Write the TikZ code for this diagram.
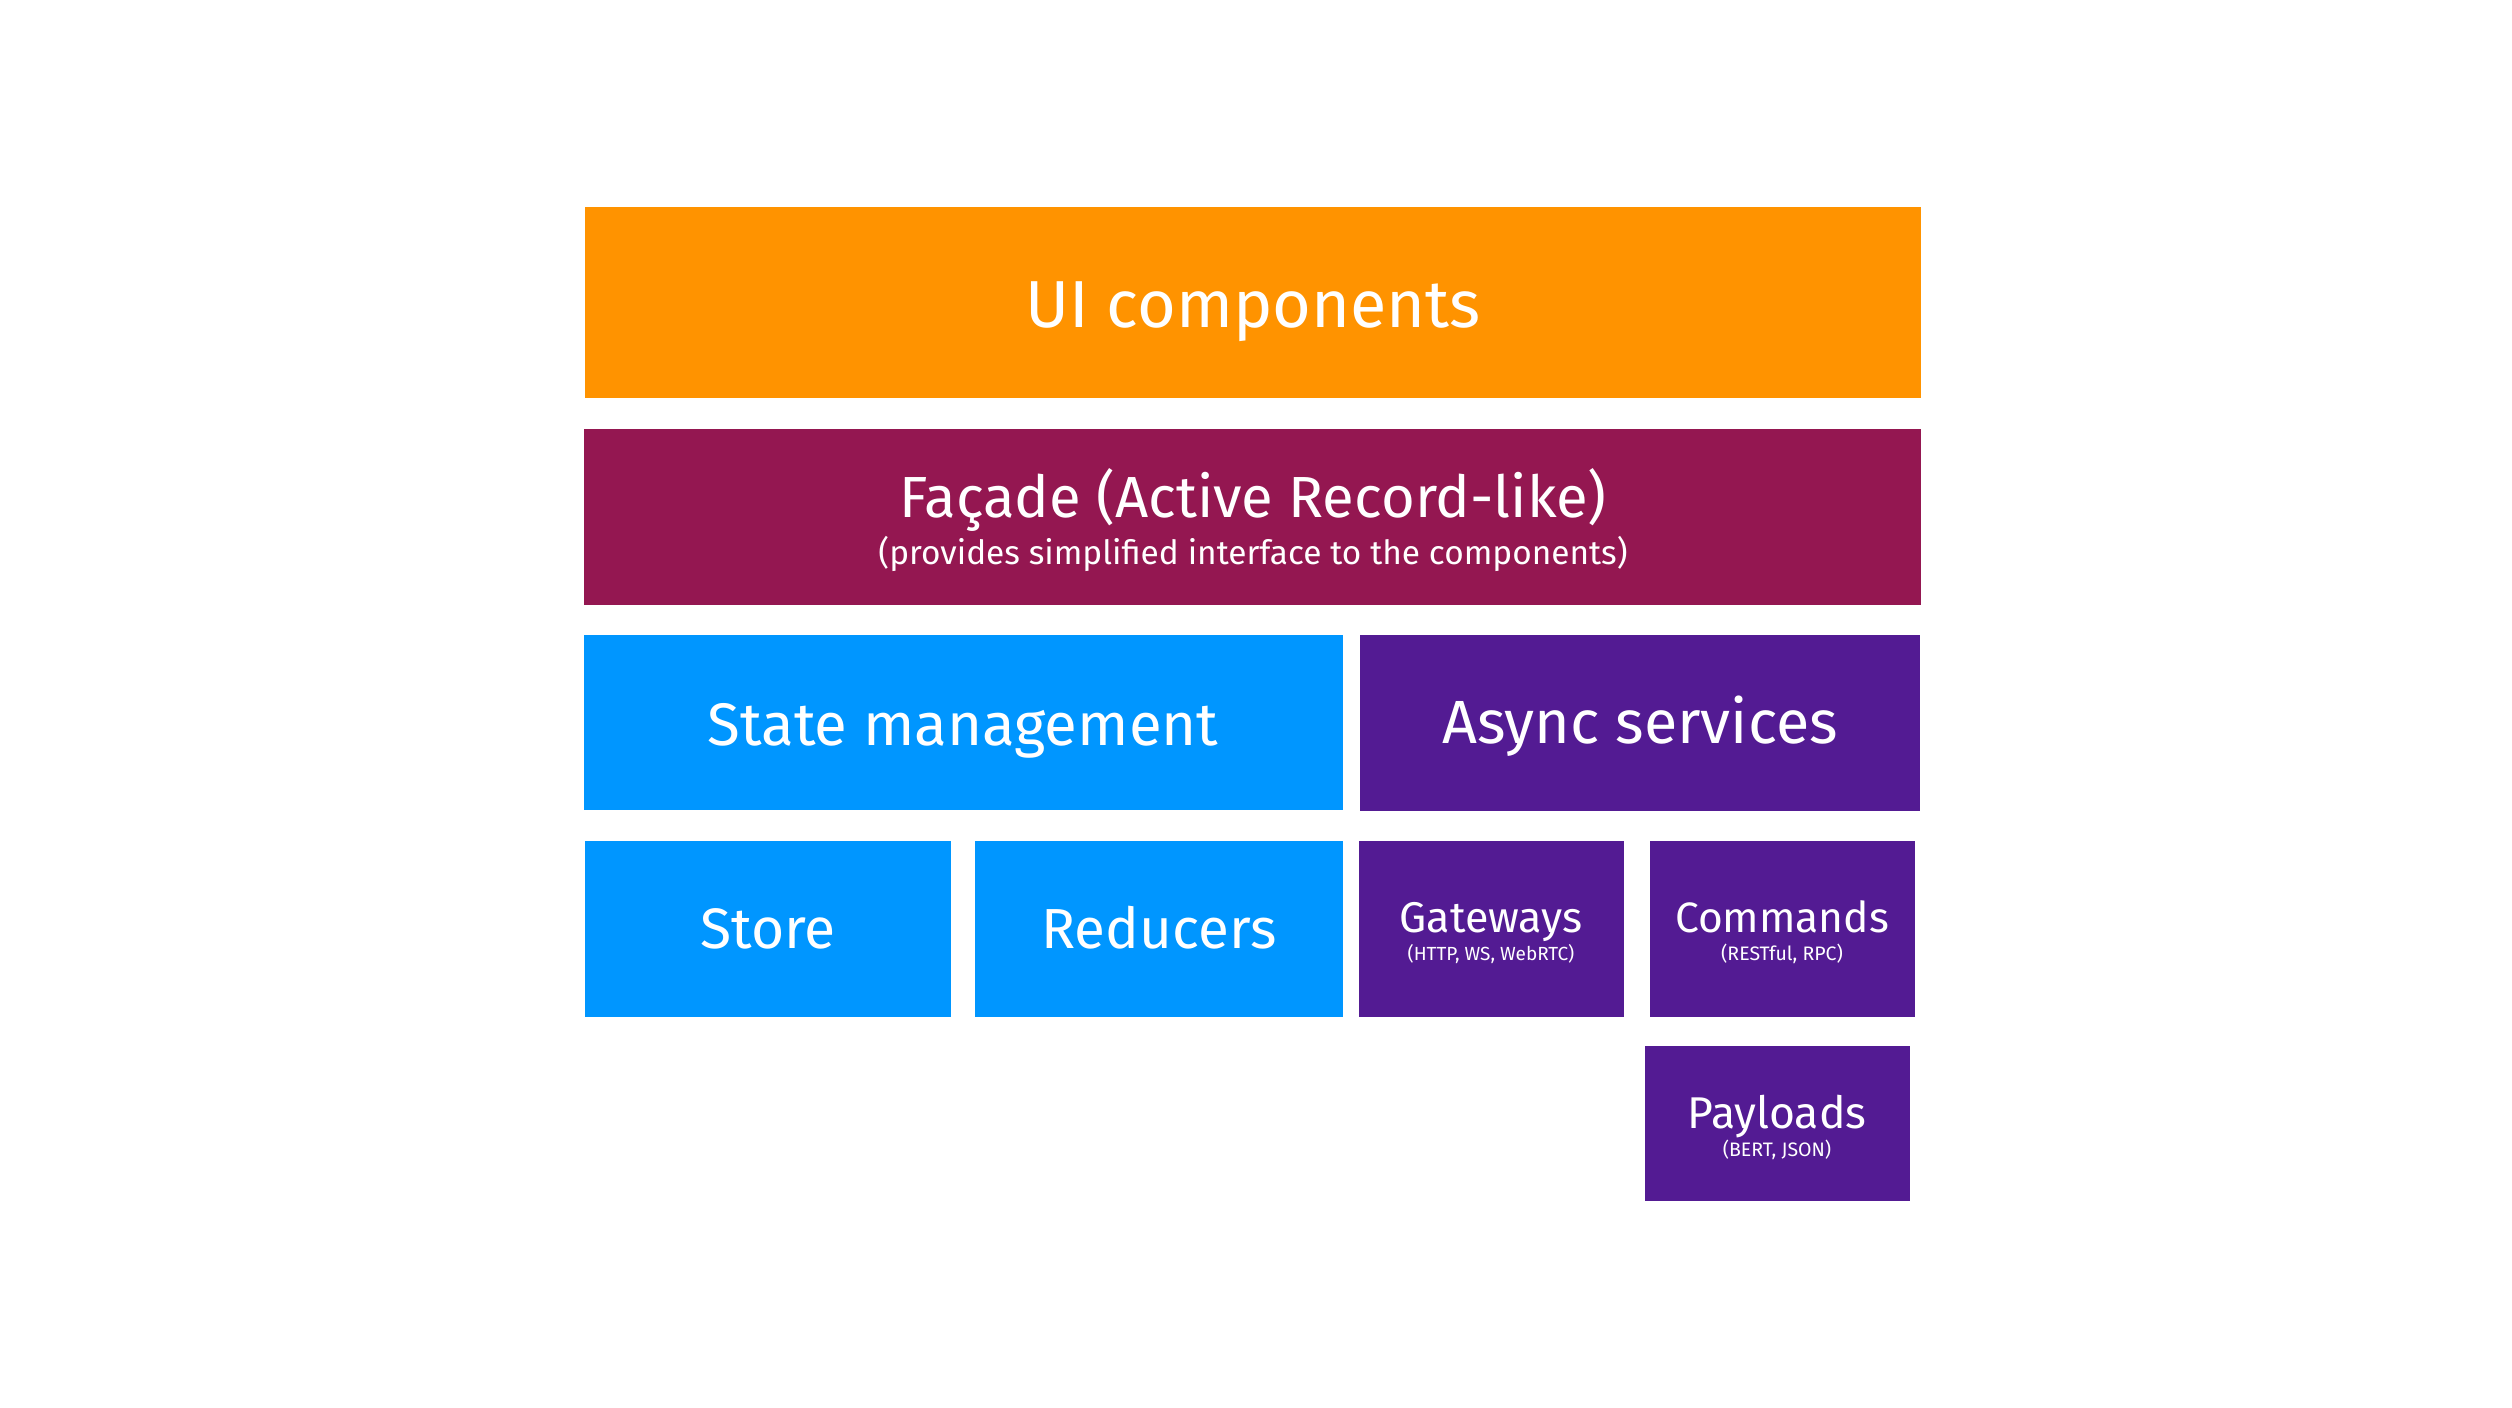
\documentclass[tikz,border=0pt]{standalone}
\usepackage{fontspec}
\setmainfont{Fira Sans}
\definecolor{tangerine}{HTML}{FF9300}
\definecolor{maroon}{HTML}{941751}
\definecolor{aqua}{HTML}{0096FF}
\definecolor{grape}{HTML}{531B93}
\newcommand{\fs}[1]{\fontsize{#1}{#1}\selectfont}
\begin{document}
\begin{tikzpicture}[x=1pt,y=-1pt,
  blockbox/.style={inner sep=0pt, outer sep=0pt, draw=none},
  lbl/.style={text=white, inner sep=0pt, anchor=base},
]
\useasboundingbox (0,0) rectangle (2512,1408);
\fill[white] (0,0) rectangle (2512,1408);
% boxes
\path[fill=tangerine] (585,207) rectangle (1921,398) node[blockbox, midway] (ui) {};
\path[fill=maroon] (584,429) rectangle (1921,605) node[blockbox, midway] (facade) {};
\path[fill=aqua] (584,635) rectangle (1343,810) node[blockbox, midway] (state) {};
\path[fill=grape] (1360,635) rectangle (1920,811) node[blockbox, midway] (async) {};
\path[fill=aqua] (585,841) rectangle (951,1017) node[blockbox, midway] (store) {};
\path[fill=aqua] (975,841) rectangle (1343,1017) node[blockbox, midway] (reducers) {};
\path[fill=grape] (1359,841) rectangle (1624,1017) node[blockbox, midway] (gateways) {};
\path[fill=grape] (1650,841) rectangle (1915,1017) node[blockbox, midway] (commands) {};
\path[fill=grape] (1645,1046) rectangle (1910,1201) node[blockbox, midway] (payloads) {};
% labels
\node[lbl] (uit) at (1253,327) {\fs{66.5}UI components};
\node[lbl] (facadet) at (1253,517) {\fs{58}Façade (Active Record-like)};
\node[lbl] (facades) at (1253,564) {\fs{33.4}(provides simplified interface to the components)};
\node[lbl] (statet) at (963,745) {\fs{60}State management};
\node[lbl] (asynct) at (1640,743) {\fs{61}Async services};
\node[lbl] (storet) at (768,948) {\fs{57}Store};
\node[lbl] (reducerst) at (1159,948) {\fs{56.5}Reducers};
\node[lbl] (gatewayst) at (1491,932) {\fs{43}Gateways};
\node[lbl] (gatewayss) at (1491,960) {\fs{19}(HTTP, WS, WebRTC)};
\node[lbl] (commandst) at (1782,932) {\fs{42.5}Commands};
\node[lbl] (commandss) at (1782,960) {\fs{19.5}(RESTful, RPC)};
\node[lbl] (payloadst) at (1777,1128) {\fs{44.5}Payloads};
\node[lbl] (payloadss) at (1777,1156) {\fs{19.5}(BERT, JSON)};
\end{tikzpicture}
\end{document}
